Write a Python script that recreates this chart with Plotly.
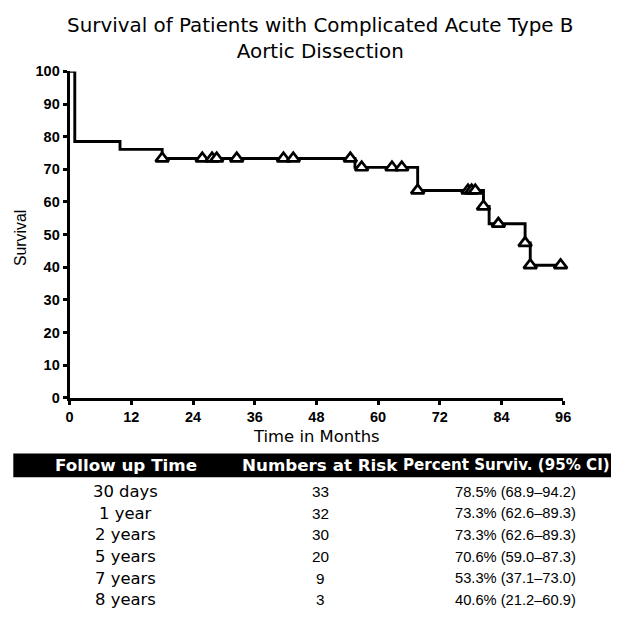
import plotly.graph_objects as go

W, H = 619, 617

# ---- data ----
step_months = [0, 1, 9.8, 18, 55.5, 67.7, 80.5, 81.6, 88.6, 89.6, 95.5]
step_survival = [100, 78.5, 76.1, 73.3, 70.6, 63.5, 58.6, 53.3, 47.4, 40.6, 40.6]

censor_months = [18, 25.8, 27.7, 28.6, 32.5, 41.6, 43.5, 54.6, 56.8, 62.7, 64.6,
                 67.7, 77.5, 78.2, 78.9, 80.5, 83.4, 88.6, 89.6, 95.5]
censor_survival = [73.3, 73.3, 73.3, 73.3, 73.3, 73.3, 73.3, 73.3, 70.6, 70.6, 70.6,
                   63.5, 63.5, 63.5, 63.5, 58.6, 53.3, 47.4, 40.6, 40.6]

x_ticks = [0, 12, 24, 36, 48, 60, 72, 84, 96]
y_ticks = [0, 10, 20, 30, 40, 50, 60, 70, 80, 90, 100]

table_header = ["Follow up Time", "Numbers at Risk", "Percent Surviv. (95% CI)"]
follow_up = ["30 days", "1 year", "2 years", "5 years", "7 years", "8 years"]
at_risk = ["33", "32", "30", "20", "9", "3"]
percent_surv = ["78.5% (68.9\u201394.2)", "73.3% (62.6\u201389.3)", "73.3% (62.6\u201389.3)",
                "70.6% (59.0\u201387.3)", "53.3% (37.1\u201373.0)", "40.6% (21.2\u201360.9)"]

title_text = "Survival of Patients with Complicated Acute Type B<br>Aortic Dissection"

# the photographed page comes out slightly reduced; place things so they land on target
K = 0.98
BX, BY = 3.7, 6.9


def px(x):
    return min(1.0, max(0.0, (x - BX) / K / W))


def py(y):
    return min(1.0, max(0.0, 1 - (y - BY) / K / H))


def fs(s):
    return round(s / K, 2)


fig = go.Figure()
fig.add_trace(go.Scatter(
    x=step_months, y=step_survival, mode="lines", line_shape="hv",
    line=dict(color="black", width=2.9), hoverinfo="skip", showlegend=False,
))
fig.add_trace(go.Scatter(
    x=censor_months, y=censor_survival, mode="markers",
    marker=dict(symbol="triangle-up", size=11.5, color="white",
                line=dict(color="black", width=2.7)),
    cliponaxis=False, showlegend=False, hoverinfo="skip",
))

tick_font = dict(family="Liberation Sans", size=fs(14.2), color="black", weight="bold")

fig.update_layout(
    width=W, height=H,
    margin=dict(l=0, r=0, t=0, b=0),
    paper_bgcolor="white", plot_bgcolor="white",
    xaxis=dict(range=[0, 96], domain=[px(69.3), px(562.5)], tickvals=x_ticks,
               showline=True, linecolor="black", linewidth=3,
               ticks="outside", ticklen=4, tickwidth=3, tickcolor="black",
               tickfont=tick_font, showgrid=False, zeroline=False),
    yaxis=dict(range=[0, 100], domain=[py(399), py(70.7)], tickvals=y_ticks,
               showline=True, linecolor="black", linewidth=3,
               ticks="outside", ticklen=4, tickwidth=3, tickcolor="black",
               tickfont=tick_font, showgrid=False, zeroline=False),
)

annotations = [
    dict(text=title_text, x=px(320), y=py(38), xref="paper", yref="paper",
         xanchor="center", yanchor="middle", showarrow=False,
         font=dict(family="DejaVu Sans", size=fs(19.5), color="black")),
    dict(text="Survival", x=px(20), y=py(238), xref="paper", yref="paper",
         xanchor="center", yanchor="middle", showarrow=False, textangle=-90,
         font=dict(family="Liberation Sans", size=fs(15.5), color="black")),
    dict(text="Time in Months", x=px(316), y=py(438.5), xref="paper", yref="paper",
         xanchor="center", yanchor="middle", showarrow=False,
         font=dict(family="DejaVu Sans", size=fs(16.1), color="black")),
]

header_x = [126, 320, 506]
header_size = [16.4, 16.4, 14.8]
header_y = 467
for cx, sz, txt in zip(header_x, header_size, table_header):
    annotations.append(dict(text=txt, x=px(cx), y=py(header_y), xref="paper", yref="paper",
                            xanchor="center", yanchor="middle", showarrow=False,
                            font=dict(family="DejaVu Sans", size=fs(sz), color="white", weight="bold")))

row_y0, row_dy = 493.5, 21.8
for i, (a, b, c) in enumerate(zip(follow_up, at_risk, percent_surv)):
    yy = row_y0 + i * row_dy
    annotations.append(dict(text=a, x=px(125), y=py(yy), xref="paper", yref="paper",
                            xanchor="center", yanchor="middle", showarrow=False,
                            font=dict(family="DejaVu Sans", size=fs(16.1), color="black")))
    annotations.append(dict(text=b, x=px(320), y=py(yy), xref="paper", yref="paper",
                            xanchor="center", yanchor="middle", showarrow=False,
                            font=dict(family="Liberation Sans", size=fs(15), color="black")))
    annotations.append(dict(text=c, x=px(515), y=py(yy), xref="paper", yref="paper",
                            xanchor="center", yanchor="middle", showarrow=False,
                            font=dict(family="Liberation Sans", size=fs(14.4), color="black")))

fig.update_layout(annotations=annotations, shapes=[
    dict(type="rect", xref="paper", yref="paper", x0=px(13), x1=1.0,
         y0=py(479), y1=py(455), fillcolor="black", line=dict(width=0), layer="below"),
])

fig.write_html(
    "out.html",
    config={"displayModeBar": False},
    post_script=("document.documentElement.style.overflow='hidden';"
                 "document.body.style.margin='0px';"
                 "document.body.style.overflow='hidden';"),
)
